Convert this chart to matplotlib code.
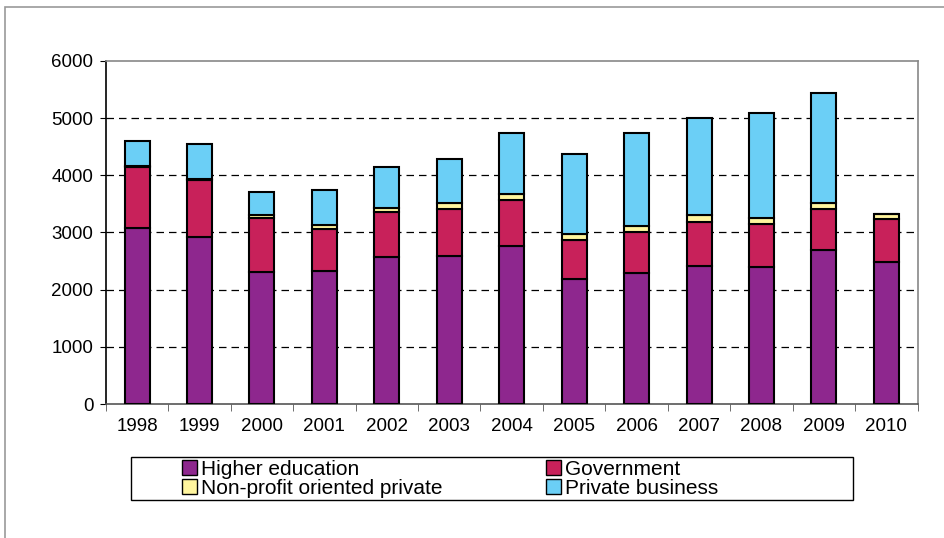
import matplotlib.pyplot as plt
import numpy as np
from matplotlib.patches import Rectangle

plt.rcParams['font.family'] = ['Liberation Sans', 'DejaVu Sans']

# values
years = ['1998', '1999', '2000', '2001', '2002', '2003', '2004',
         '2005', '2006', '2007', '2008', '2009', '2010']
higher_edu = [3080, 2915, 2310, 2325, 2575, 2595, 2765, 2180, 2295, 2415, 2400, 2695, 2480]
government = [1070, 1000, 950, 740, 785, 815, 800, 695, 710, 775, 750, 715, 755]
non_profit = [15, 20, 40, 60, 70, 110, 100, 100, 115, 120, 105, 105, 95]
business = [440, 615, 415, 620, 705, 760, 1075, 1400, 1625, 1690, 1835, 1920, 0]

colors = ['#8E278E', '#C8215A', '#FFF59E', '#6BCFF6']
names = ['Higher education', 'Government', 'Non-profit oriented private', 'Private business']

fig = plt.figure(figsize=(9.45, 5.38), dpi=100)
ax = fig.add_axes([0.112, 0.249, 0.859, 0.638])

x = np.arange(len(years))
series = [higher_edu, government, non_profit, business]
bottom = np.zeros(len(years))
bars = []
for vals, c in zip(series, colors):
    vals = np.array(vals, dtype=float)
    b = ax.bar(x, vals, width=0.4, bottom=bottom, color=c,
               edgecolor='black', linewidth=1.5, zorder=3)
    bars.append(b)
    bottom += vals

ax.set_xlim(-0.5, len(years) - 0.5)
ax.set_ylim(0, 6000)
ax.set_yticks(range(0, 6001, 1000))
ax.set_xticks(x)
ax.set_xticklabels(years)
ax.set_xticks(np.arange(-0.5, len(years), 1), minor=True)
ax.tick_params(axis='x', which='major', length=0, pad=10, labelsize=13.5)
ax.tick_params(axis='x', which='minor', length=5, direction='out', color='#555555')
ax.tick_params(axis='y', length=4, direction='out', labelsize=13.5, pad=5)

for v in range(1000, 6000, 1000):
    ax.axhline(v, color='black', linestyle=(0, (6, 4)), linewidth=0.9, zorder=1)

ax.spines['top'].set_color('#888888')
ax.spines['right'].set_color('#888888')
ax.spines['left'].set_color('black')
ax.spines['bottom'].set_color('#555555')
for s in ax.spines.values():
    s.set_linewidth(1.2)

# legend box drawn separately, entries placed inside it
fig.patches.append(Rectangle((131 / 945, 1 - 500 / 538), 722 / 945, 43 / 538,
                             transform=fig.transFigure, fill=False,
                             edgecolor='black', linewidth=1.0))
order = [0, 2, 1, 3]
leg = fig.legend([bars[i] for i in order], [names[i] for i in order],
                 ncol=2, loc='upper left',
                 bbox_to_anchor=(182 / 945, 1 - 460 / 538),
                 fontsize=15, frameon=False,
                 handlelength=0.7, handleheight=0.7,
                 handletextpad=0.2, labelspacing=0.0, borderpad=0,
                 columnspacing=5.0, borderaxespad=0)
for h in leg.legend_handles:
    h.set_linewidth(1.0)

# outer frame of the chart area
fig.patches.append(Rectangle((5 / 945, -0.01), 1.0, 1 - 7 / 538 + 0.01,
                             transform=fig.transFigure, fill=False,
                             edgecolor='#999999', linewidth=1.2))

fig.savefig('out.png', dpi=100)
